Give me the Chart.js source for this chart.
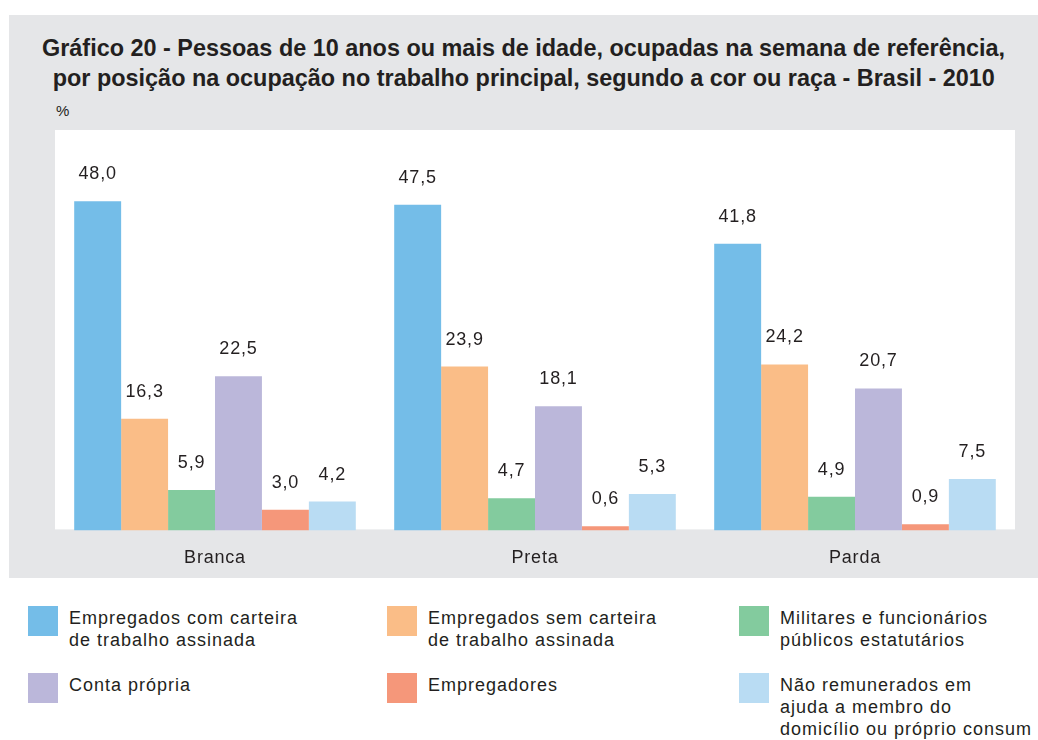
<!DOCTYPE html>
<html>
<head>
<meta charset="utf-8">
<script src="https://cdn.jsdelivr.net/npm/chart.js@4"></script>
<style>
  body { margin: 0; background: #fff; font-family: "Liberation Sans", Arial, sans-serif; color: #231f20; }
  #panel { position: absolute; left: 9px; top: 15px; width: 1029px; height: 563px; background: #e5e6e8; }
  #title { position: absolute; left: 9px; top: 33px; width: 1029px; text-align: center;
           font-family: "Liberation Sans", Arial, sans-serif; font-weight: bold;
           font-size: 24px; line-height: 30px; }
  #title div { white-space: nowrap; display: inline-block; transform-origin: 50% 50%; }
  #unit { position: absolute; left: 56px; top: 102px; font-size: 15px; }
  #wrap { position: absolute; left: 0; top: 0; width: 1038px; height: 590px; }
  .leg { position: absolute; font-size: 18px; line-height: 22px; letter-spacing: 1px; }
  .leg span { position: absolute; left: 0; top: 0; width: 30px; height: 30px; }
  .leg div { position: absolute; left: 41px; top: 1px; white-space: nowrap; }
</style>
</head>
<body>
<div id="panel"></div>
<div id="title"><div id="t1">Gráfico 20 - Pessoas de 10 anos ou mais de idade, ocupadas na semana de referência,</div><br><div id="t2">por posição na ocupação no trabalho principal, segundo a cor ou raça - Brasil - 2010</div></div>
<div id="unit">%</div>
<div id="wrap"><canvas id="myChart" width="1038" height="590"></canvas></div>
<div id="legend"></div>
<script>
// Categories and series
var categories = ['Branca', 'Preta', 'Parda'];
var seriesNames = [
  'Empregados com carteira\nde trabalho assinada',
  'Empregados sem carteira\nde trabalho assinada',
  'Militares e funcionários\npúblicos estatutários',
  'Conta própria',
  'Empregadores',
  'Não remunerados em\najuda a membro do\ndomicílio ou próprio consum'
];
var comCarteira = [48.0, 47.5, 41.8];
var semCarteira = [16.3, 23.9, 24.2];
var militares = [5.9, 4.7, 4.9];
var contaPropria = [22.5, 18.1, 20.7];
var empregadores = [3.0, 0.6, 0.9];
var naoRemunerados = [4.2, 5.3, 7.5];
var colors = ['#74bde8', '#fabd87', '#83cb9e', '#bbb7da', '#f5977a', '#b9dcf3'];

var allSeries = [comCarteira, semCarteira, militares, contaPropria, empregadores, naoRemunerados];

// squeeze the title lines to the condensed width of the original
var t1 = document.getElementById('t1');
var t2 = document.getElementById('t2');
var sx = 963 / t1.offsetWidth;
t1.style.transform = 'scaleX(' + sx + ')';
t2.style.transform = 'scaleX(' + sx + ')';

// Value labels above the bars
var valueLabels = {
  id: 'valueLabels',
  afterDatasetsDraw: function(chart) {
    var ctx = chart.ctx;
    ctx.save();
    ctx.font = '18px "Liberation Sans", Arial, sans-serif';
    ctx.fillStyle = '#231f20';
    ctx.textAlign = 'center';
    ctx.textBaseline = 'middle';
    chart.data.datasets.forEach(function(ds, i) {
      chart.getDatasetMeta(i).data.forEach(function(bar, j) {
        ctx.fillText(ds.data[j].toFixed(1).replace('.', ','), bar.x, bar.y - 27);
      });
    });
    ctx.restore();
  }
};

// White plot background
var plotBg = {
  id: 'plotBg',
  beforeDraw: function(chart) {
    var a = chart.chartArea;
    chart.ctx.letterSpacing = '0.8px';
    chart.ctx.save();
    chart.ctx.fillStyle = '#ffffff';
    chart.ctx.fillRect(a.left, a.top, a.right - a.left, a.bottom - a.top - 1);
    chart.ctx.restore();
  }
};

var ctx = document.getElementById('myChart').getContext('2d');
var myChart = new Chart(ctx, {
  type: 'bar',
  data: {
    labels: categories,
    datasets: allSeries.map(function(d, i) {
      return {
        label: seriesNames[i],
        data: d,
        backgroundColor: colors[i],
        borderWidth: 0,
        categoryPercentage: 0.88,
        barPercentage: 1.0
      };
    })
  },
  options: {
    responsive: false,
    animation: false,
    layout: { padding: { left: 55, right: 23, top: 130, bottom: 4 } },
    plugins: { legend: { display: false }, tooltip: { enabled: false } },
    scales: {
      x: {
        grid: { display: false, drawTicks: false },
        border: { display: false },
        ticks: { color: '#231f20', padding: 17, font: { size: 18, family: '"Liberation Sans", Arial, sans-serif' } }
      },
      y: { display: false, min: 0, max: 58.4 }
    }
  },
  plugins: [plotBg, valueLabels]
});

// HTML legend in three columns
var legX = [28, 387, 739];
var legY = [606, 673];
var legend = document.getElementById('legend');
seriesNames.forEach(function(name, i) {
  var el = document.createElement('div');
  el.className = 'leg';
  el.style.left = legX[i % 3] + 'px';
  el.style.top = legY[Math.floor(i / 3)] + 'px';
  el.innerHTML = '<span style="background:' + colors[i] + '"></span><div>' + name.replace(/\n/g, '<br>') + '</div>';
  legend.appendChild(el);
});
</script>
</body>
</html>
